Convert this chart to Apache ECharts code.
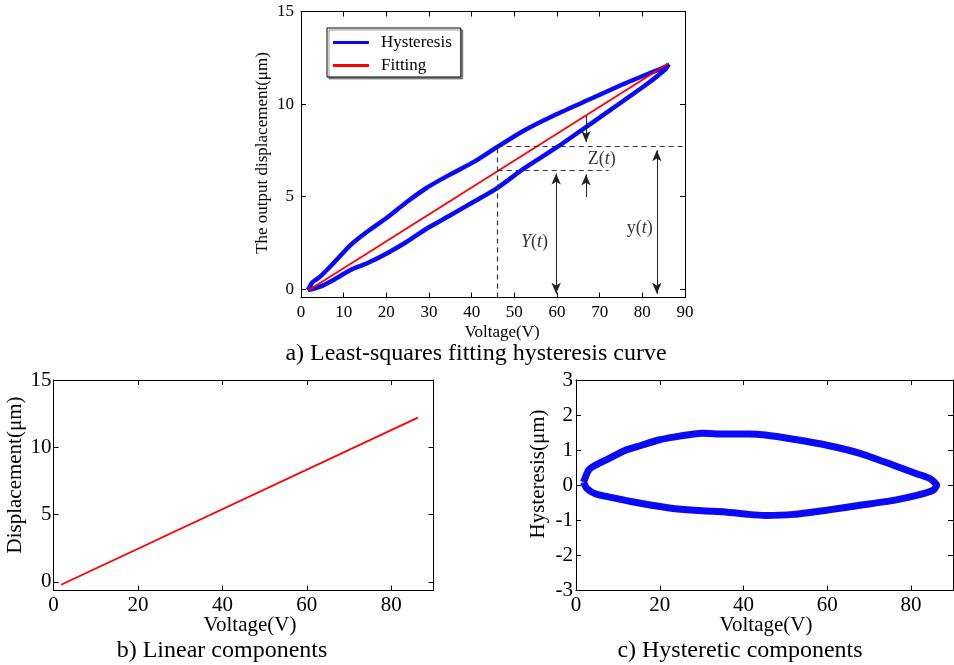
<!DOCTYPE html>
<html>
<head>
<meta charset="utf-8">
<script src="https://cdn.jsdelivr.net/npm/echarts@6/dist/echarts.min.js"></script>
<style>
html, body { margin: 0; padding: 0; background: #fff; }
#main { width: 954px; height: 665px; }
</style>
</head>
<body>
<div id="main"></div>
<script>
// a) measured hysteresis loop: rising and falling branches (V, um)
var loopUpV = [1.6, 2.6, 4.5, 7.6, 11.6, 15.5, 20.2, 24.8, 29.5, 35.0, 40.4, 45.9, 52.2, 60.0, 67.8, 75.6, 81.1, 85.8, 86.2];
var loopUpY = [-0.05, 0.35, 0.68, 1.40, 2.38, 3.10, 3.87, 4.71, 5.48, 6.20, 6.86, 7.67, 8.56, 9.46, 10.27, 11.08, 11.61, 12.06, 12.15];
var loopDownV = [1.6, 4.5, 7.6, 11.6, 15.5, 20.2, 24.8, 29.5, 35.0, 40.4, 45.9, 52.2, 60.0, 67.8, 75.6, 81.1, 85.4, 86.2];
var loopDownY = [-0.05, 0.14, 0.50, 1.04, 1.40, 1.94, 2.56, 3.28, 3.99, 4.71, 5.45, 6.51, 7.67, 8.92, 10.18, 11.08, 11.88, 12.15];

// a) least-squares line
var fitV = [1.6, 86.2];
var fitY = [-0.09, 12.2];

// a) annotation: guide point, arrows, labels
var guideV = 46.1, guideUpper = 7.7, guideFit = 6.45;
var noteV = [70.5, 54.75, 79.4];
var noteY = [7.04, 2.56, 3.28];
var noteText = ['{n|Z(}{i|t}{n|)}', '{i|Y}{n|(}{i|t}{n|)}', '{n|y(}{i|t}{n|)}'];

// b) linear component
var linV = [1.8, 86.3];
var linY = [-0.22, 12.2];

// c) hysteretic component
var hysUpV = [1.8, 3.0, 4.6, 7.8, 11.8, 15.7, 19.7, 23.7, 30.1, 35.6, 41.2, 45.2, 51.9, 59.9, 67.8, 75.8, 81.3, 84.5, 86.1];
var hysUpY = [0.09, 0.43, 0.57, 0.76, 1.00, 1.14, 1.29, 1.38, 1.48, 1.46, 1.46, 1.43, 1.31, 1.14, 0.91, 0.57, 0.33, 0.19, 0.0];
var hysDownV = [1.8, 2.6, 4.6, 7.8, 11.8, 15.7, 19.7, 23.7, 30.1, 35.6, 41.2, 45.2, 51.9, 59.9, 67.8, 75.8, 81.3, 85.3, 86.1];
var hysDownY = [0.09, -0.09, -0.24, -0.33, -0.43, -0.52, -0.60, -0.67, -0.73, -0.76, -0.83, -0.86, -0.83, -0.71, -0.57, -0.43, -0.29, -0.14, 0.0];

var ticksA = [0, 5, 10, 15];
var ticksV = [0, 20, 40, 60, 80];

var SERIF = "'Liberation Serif', 'Times New Roman', serif";
var BLUE = '#0a0af5';
var RED = '#ff0000';

function pairs(xs, ys) {
    return xs.map(function (x, i) { return [x, ys[i]]; });
}
function loop(upV, upY, downV, downY) {
    return pairs(upV, upY).concat(pairs(downV, downY).reverse());
}

// axis with matlab style box ticks
function axis(grid, pos, min, max, size, margin, ticks, interval, labels) {
    var ax = {
        type: 'value', gridIndex: grid, position: pos, min: min, max: max,
        axisLine: { show: true, onZero: false, lineStyle: { color: '#000', width: 1 } },
        axisTick: { show: true, inside: true, length: 5, lineStyle: { color: '#000' } },
        axisLabel: { show: labels, color: '#000', fontFamily: SERIF, fontSize: size, margin: margin },
        splitLine: { show: false }
    };
    if (interval) ax.interval = interval;
    if (ticks) {
        ax.axisLabel.customValues = ticks;
        ax.axisTick.customValues = ticks;
    }
    return ax;
}

function text(x, y, str, size, rotate) {
    return {
        type: 'text', x: x, y: y, rotation: rotate ? Math.PI / 2 : 0,
        style: { text: str, fill: '#000', font: size + 'px ' + SERIF, align: 'center', verticalAlign: 'middle' }
    };
}

var ymin = -0.45;
var arrowLines = [
    [{ coord: [66.8, 9.37], symbol: 'none' }, { coord: [66.8, 7.95], symbol: 'arrow' }],
    [{ coord: [66.8, 4.98], symbol: 'none' }, { coord: [66.8, 6.2], symbol: 'arrow' }],
    [{ coord: [59.8, ymin + 0.2], symbol: 'arrow' }, { coord: [59.8, guideFit - 0.2], symbol: 'arrow' }],
    [{ coord: [83.4, ymin + 0.2], symbol: 'arrow' }, { coord: [83.4, guideUpper - 0.2], symbol: 'arrow' }]
];
var guideLines = [
    [{ coord: [guideV, ymin] }, { coord: [guideV, guideUpper] }],
    [{ coord: [guideV, guideUpper] }, { coord: [90, guideUpper] }],
    [{ coord: [guideV, guideFit] }, { coord: [72.1, guideFit] }]
];

var myChart = echarts.init(document.getElementById('main'));
myChart.setOption({
    animation: false,
    backgroundColor: '#fff',
    textStyle: { fontFamily: SERIF },
    grid: [
        { left: 301, top: 11.5, width: 384, height: 286, outerBoundsMode: 'none' },
        { left: 53.5, top: 380, width: 380, height: 210.5, outerBoundsMode: 'none' },
        { left: 576, top: 380, width: 377, height: 210.5, outerBoundsMode: 'none' }
    ],
    xAxis: [
        axis(0, 'bottom', 0, 90, 17, 7, null, 10, true),
        axis(0, 'top', 0, 90, 17, 7, null, 10, false),
        axis(1, 'bottom', 0, 90, 21, 4, ticksV, null, true),
        axis(1, 'top', 0, 90, 21, 4, ticksV, null, false),
        axis(2, 'bottom', 0, 90, 21, 4, ticksV, null, true),
        axis(2, 'top', 0, 90, 21, 4, ticksV, null, false)
    ],
    yAxis: [
        axis(0, 'left', ymin, 15, 17, 7, ticksA, null, true),
        axis(0, 'right', ymin, 15, 17, 7, ticksA, null, false),
        axis(1, 'left', -0.65, 15, 21, 2, ticksA, null, true),
        axis(1, 'right', -0.65, 15, 21, 2, ticksA, null, false),
        axis(2, 'left', -3, 3, 21, 3, null, 1, true),
        axis(2, 'right', -3, 3, 21, 3, null, 1, false)
    ],
    legend: {
        data: ['Hysteresis', 'Fitting'],
        selectedMode: false,
        orient: 'vertical',
        left: 327, top: 28,
        icon: 'rect', itemWidth: 36, itemHeight: 3, itemGap: 6,
        padding: [6, 9, 3, 6],
        borderColor: '#000', borderWidth: 1,
        backgroundColor: '#fff',
        shadowColor: 'rgba(0,0,0,0.4)', shadowOffsetX: 2, shadowOffsetY: 2, shadowBlur: 0,
        textStyle: { color: '#000', fontFamily: SERIF, fontSize: 17, padding: [0, 0, 0, 7] }
    },
    series: [
        {
            name: 'Hysteresis', type: 'line', xAxisIndex: 0, yAxisIndex: 0,
            data: loop(loopUpV, loopUpY, loopDownV, loopDownY),
            symbol: 'none', smooth: 0.2, z: 2,
            itemStyle: { color: BLUE }, lineStyle: { color: BLUE, width: 4.5 }
        },
        {
            name: 'Fitting', type: 'line', xAxisIndex: 0, yAxisIndex: 0,
            data: pairs(fitV, fitY), symbol: 'none', z: 3,
            itemStyle: { color: RED }, lineStyle: { color: RED, width: 1.8 },
            markLine: {
                silent: true, symbol: 'none', label: { show: false },
                lineStyle: { color: '#333', width: 1.2, type: [5, 4] },
                emphasis: { disabled: true },
                data: guideLines
            }
        },
        {
            name: 'notes', type: 'scatter', xAxisIndex: 0, yAxisIndex: 0,
            symbolSize: 1, itemStyle: { color: 'rgba(0,0,0,0)' }, silent: true, z: 4,
            data: noteV.map(function (v, i) { return { value: [v, noteY[i]], note: noteText[i] }; }),
            label: {
                show: true, position: 'inside',
                formatter: function (p) { return p.data.note; },
                rich: {
                    n: { fontFamily: SERIF, fontSize: 18, color: '#000' },
                    i: { fontFamily: SERIF, fontSize: 18, fontStyle: 'italic', color: '#000' }
                }
            },
            markLine: {
                silent: true, symbolSize: [7, 11], label: { show: false },
                lineStyle: { color: '#222', width: 1, type: 'solid' },
                itemStyle: { color: '#222' },
                emphasis: { disabled: true },
                data: arrowLines
            }
        },
        {
            name: 'Linear', type: 'line', xAxisIndex: 2, yAxisIndex: 2,
            data: pairs(linV, linY), symbol: 'none',
            lineStyle: { color: RED, width: 1.8 }
        },
        {
            name: 'Hysteretic', type: 'line', xAxisIndex: 4, yAxisIndex: 4,
            data: loop(hysUpV, hysUpY, hysDownV, hysDownY),
            symbol: 'none', smooth: 0.2,
            lineStyle: { color: BLUE, width: 7 }
        }
    ],
    graphic: [
        text(263, 153, 'The output displacement(\u03bcm)', 17, true),
        text(502, 333, 'Voltage(V)', 17),
        text(476, 354, 'a) Least-squares fitting hysteresis curve', 24),
        text(15, 475, 'Displacement(\u03bcm)', 21, true),
        text(250, 625, 'Voltage(V)', 21),
        text(222, 651, 'b) Linear components', 24),
        text(538, 474, 'Hysteresis(\u03bcm)', 21, true),
        text(766, 625, 'Voltage(V)', 21),
        text(740, 651, 'c) Hysteretic components', 24)
    ]
});
</script>
</body>
</html>
